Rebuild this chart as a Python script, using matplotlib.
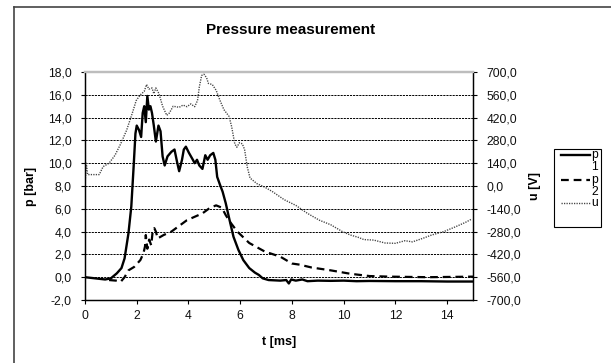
import matplotlib
matplotlib.use("Agg")
import matplotlib.pyplot as plt
from matplotlib.lines import Line2D
from matplotlib.patches import Rectangle
from matplotlib.ticker import FuncFormatter

plt.rcParams['font.family'] = ['Liberation Sans', 'DejaVu Sans']

# ---- data ----
t_p1 = [0.0, 0.78, 1.0, 1.23, 1.41, 1.53, 1.68, 1.79, 1.88, 1.95, 2.0, 2.09, 2.17, 2.23, 2.29,
        2.35, 2.41, 2.47, 2.53, 2.59, 2.66, 2.74, 2.84, 2.92, 3.0, 3.08, 3.19, 3.34, 3.46,
        3.56, 3.64, 3.75, 3.82, 3.9, 4.02, 4.17, 4.24, 4.33, 4.42, 4.54, 4.65, 4.74, 4.84,
        4.96, 5.04, 5.11, 5.22, 5.32, 5.44, 5.59, 5.74, 5.93, 6.12, 6.35, 6.57, 6.72, 6.87,
        7.1, 7.55, 7.78, 7.88, 7.97, 8.15, 8.4, 8.6, 9.0, 9.5, 10.0, 10.5, 11.0, 12.0, 13.0,
        14.0, 15.0]
p1 = [0.0, -0.2, -0.1, 0.34, 0.8, 1.65, 3.85, 6.2, 9.7, 12.6, 13.3, 12.9, 12.3, 14.4, 15.0,
      13.6, 15.9, 14.7, 15.0, 14.4, 13.3, 11.9, 13.3, 12.8, 10.6, 9.8, 10.6, 11.0, 11.2,
      10.1, 9.3, 10.3, 11.2, 11.45, 10.9, 10.3, 10.0, 10.3, 9.8, 9.5, 10.7, 10.3, 10.7,
      10.9, 10.3, 8.8, 8.1, 7.5, 6.5, 5.0, 3.55, 2.4, 1.5, 0.8, 0.4, 0.2, -0.1,
      -0.25, -0.3, -0.25, -0.55, -0.2, -0.3, -0.2, -0.35, -0.3, -0.32, -0.3, -0.35, -0.33,
      -0.35, -0.35, -0.38, -0.38]

t_p2 = [0.93, 1.2, 1.38, 1.53, 1.68, 1.9, 2.14, 2.26, 2.32, 2.35, 2.41, 2.48, 2.56, 2.62,
        2.68, 2.74, 2.81, 3.04, 3.34, 3.64, 3.94, 4.24, 4.54, 4.84, 5.07, 5.29, 5.44, 5.59,
        5.89, 6.35, 6.95, 7.55, 8.0, 8.3, 8.76, 9.5, 10.26, 11.0, 11.76, 13.27, 15.0]
p2 = [-0.25, -0.3, -0.4, 0.0, 0.6, 0.9, 1.5, 2.1, 2.7, 3.7, 2.5, 3.3, 2.8, 4.1,
      4.3, 4.0, 3.4, 3.7, 4.0, 4.5, 5.0, 5.3, 5.6, 6.1, 6.3, 6.1, 5.45, 4.9,
      4.0, 3.0, 2.25, 1.8, 1.2, 1.1, 0.85, 0.6, 0.3, 0.1, 0.05, 0.0, 0.05]

t_u = [0.0, 0.05, 0.1, 0.55, 0.7, 0.93, 1.16, 1.38, 1.61, 1.83, 1.98, 2.14, 2.29, 2.38, 2.47,
       2.59, 2.66, 2.74, 2.86, 3.0, 3.16, 3.26, 3.41, 3.64, 3.79, 3.94, 4.09, 4.24, 4.35,
       4.42, 4.51, 4.6, 4.7, 4.77, 4.92, 5.07, 5.22, 5.37, 5.57, 5.67, 5.79, 5.87, 5.97,
       6.08, 6.17, 6.27, 6.38, 6.65, 6.95, 7.25, 7.7, 8.15, 8.6, 9.06, 9.5, 9.95, 10.26,
       10.56, 10.78, 11.16, 11.6, 12.0, 12.37, 12.66, 13.05, 13.4, 13.87, 14.3, 14.7, 14.95]
u = [0, 140, 70, 70, 119, 140, 189, 259, 343, 448, 525, 560, 581, 623, 595,
     602, 567, 602, 567, 490, 434, 448, 490, 483, 497, 487, 504, 487, 525,
     609, 679, 686, 665, 630, 623, 588, 525, 469, 427, 364, 259, 238, 266,
     259, 224, 119, 49, 14, -7, -35, -84, -119, -168, -210, -238, -280, -301,
     -315, -329, -332, -350, -352, -336, -343, -322, -301, -280, -252, -224, -203]

p_ticks = [-2, 0, 2, 4, 6, 8, 10, 12, 14, 16, 18]
u_ticks = [-700, -560, -420, -280, -140, 0, 140, 280, 420, 560, 700]
t_ticks = [0, 2, 4, 6, 8, 10, 12, 14]

title = "Pressure measurement"
labels = ["p1", "p2", "u"]

# ---- figure ----
W, H = 611, 363
fig = plt.figure(figsize=(W / 100, H / 100), dpi=100)
ax = fig.add_axes([85 / W, 1 - 300 / H, (473 - 85) / W, (300 - 72) / H])
ax2 = ax.twinx()

st_p1 = dict(color='black', lw=1.7, solid_joinstyle='round')
st_p2 = dict(color='black', lw=1.6, dashes=(3.5, 2.2))
st_u = dict(color='#444444', lw=1.0, dashes=(0.9, 0.9))

ax.plot(t_p1, p1, **st_p1)
ax.plot(t_p2, p2, **st_p2)
ax2.plot(t_u, u, **st_u)

ax.set_xlim(0, 15)
ax.set_ylim(-2, 18)
ax2.set_ylim(-700, 700)
ax.set_xticks(t_ticks)
ax.set_yticks(p_ticks)
ax2.set_yticks(u_ticks)

fmt = FuncFormatter(lambda v, pos: f"{v:.1f}".replace('.', ','))
ax.yaxis.set_major_formatter(fmt)
ax2.yaxis.set_major_formatter(fmt)

for a in (ax, ax2):
    a.tick_params(labelsize=8.7, length=3, width=0.8, colors='black', labelcolor='#111111')
ax.tick_params(axis='y', pad=6.5)
ax.tick_params(axis='x', pad=4)
ax2.tick_params(axis='y', pad=6.5)

for y in p_ticks[1:-1]:
    ax.axhline(y, color='black', lw=0.7, dashes=(2.2, 1.0), zorder=0.5)

for a in (ax, ax2):
    a.spines['top'].set_color('#bdbdbd')
    a.spines['top'].set_linewidth(1.6)
    for s in ('left', 'right', 'bottom'):
        a.spines[s].set_color('black')
        a.spines[s].set_linewidth(0.9)

ax.set_xlabel("t [ms]", fontsize=9, fontweight='bold', labelpad=10)
ax.set_ylabel("p [bar]", fontsize=9, fontweight='bold', labelpad=8)
ax2.set_ylabel("u [V]", fontsize=9, fontweight='bold', rotation=90, labelpad=6)

fig.text(291 / W, 1 - 30 / H, title, ha='center', va='center', fontsize=11, fontweight='bold')

# outer frame (partially visible)
fig.add_artist(Line2D([13.5 / W, 13.5 / W], [0, 1 - 7 / H], color='#444444', lw=1.2))
fig.add_artist(Line2D([13.5 / W, 1], [1 - 7 / H, 1 - 7 / H], color='#444444', lw=1.2))

# legend (manual, narrow box with wrapped labels)
fig.add_artist(Rectangle((554 / W, 1 - 227 / H), (601 - 554) / W, (227 - 149) / H,
                         transform=fig.transFigure, fill=False, edgecolor='black', lw=0.8))
rows = [155, 180, 203]
for lab, st, yr in zip(labels, (st_p1, st_p2, st_u), rows):
    st = {k: v for k, v in st.items() if k != 'solid_joinstyle'}
    fig.add_artist(Line2D([561 / W, 590 / W], [1 - yr / H, 1 - yr / H], **st))
    txt = lab if len(lab) == 1 else lab[0] + "\n" + lab[1:]
    fig.text(591 / W, 1 - (yr - 6) / H, txt, ha='left', va='top', fontsize=8.7,
             linespacing=0.95)

fig.savefig("out.png", dpi=100)
